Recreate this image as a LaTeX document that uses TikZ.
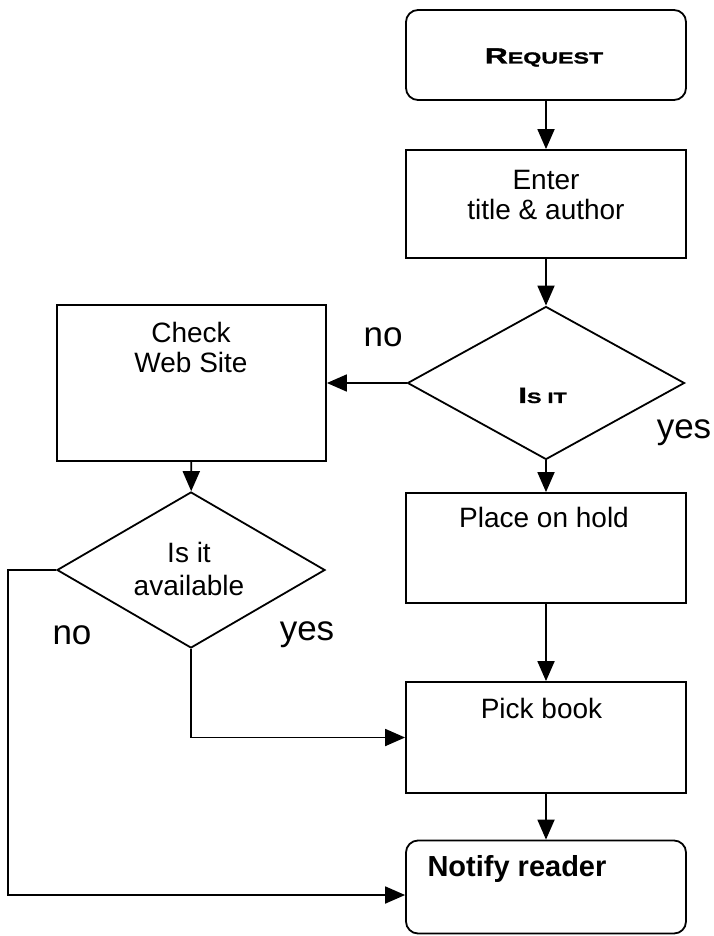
\documentclass[tikz,border=0pt]{standalone}
\usepackage{fontspec}
\setmainfont{Liberation Sans}
\newfontfamily\capsfont[FakeStretch=1.45,BoldFeatures={FakeBold=1.5}]{Liberation Sans}
\usetikzlibrary{shapes.geometric,arrows.meta}
\tikzset{
  stepbox/.style={draw=black, line width=1.8pt, inner sep=0pt, minimum width=280pt},
  endbox/.style={stepbox, rounded corners=12pt},
  query/.style={draw=black, line width=1.8pt, diamond, inner sep=0pt},
  txt/.style={text=black, align=center, font=\fontsize{28}{30}\selectfont},
  head/.style={text=black, font=\capsfont\bfseries\fontsize{22}{26}\selectfont},
  ans/.style={text=black, font=\fontsize{35}{40}\selectfont},
  flow/.style={draw=black, line width=1.8pt, -{Triangle[length=20pt,width=17pt]}},
}
\begin{document}
\begin{tikzpicture}[x=1pt,y=-1pt]
\useasboundingbox (0,0) rectangle (713,936);

% boxes and decisions:
\node[endbox, minimum height=90pt] (req) at (546,55) {};
\node[stepbox, minimum height=108pt] (enter) at (546,204) {};
\node[query, minimum width=277pt, minimum height=153pt] (isit) at (546,383) {};
\node[stepbox, minimum width=269pt, minimum height=156pt] (check) at (191.5,383) {};
\node[query, minimum width=268pt, minimum height=156pt] (avail) at (191,570) {};
\node[stepbox, minimum height=110pt] (place) at (546,548) {};
\node[stepbox, minimum height=111pt] (pick) at (546,737.5) {};
\node[endbox, minimum height=93pt] (notify) at (546,887) {};
\coordinate (lftrail) at (8,895);

% texts:
\node[head] (reqtxt) at (544,57.5) {R\fontsize{16}{20}\selectfont EQUEST};
\node[head] (isittxt) at (542.5,395.5) {I\fontsize{15}{18}\selectfont S IT};
\node[txt] (entertxt) at (546,195) {Enter\\title \& author};
\node[txt] (checktxt) at (191,347) {Check\\Web Site};
\node[txt, font=\fontsize{28}{33}\selectfont] (availtxt) at (189,568.5) {Is it\\available};
\node[txt] (placetxt) at (544,517) {Place on hold};
\node[txt] (picktxt) at (541.5,708) {Pick book};
\node[txt, font=\bfseries\fontsize{29}{32}\selectfont, anchor=west] (notifytxt) at (424,869) {Notify reader};
\node[ans] (nofirst) at (383,337) {no};
\node[ans] (yesfirst) at (684,433) {yes};
\node[ans] (nosecond) at (72,635) {no};
\node[ans] (yessecond) at (307,635) {yes};

% connectors:
\draw[flow] (req) -- (enter);
\draw[flow] (enter) -- (isit);
\draw[flow] (isit.west) -- (check.east);
\draw[flow] (isit) -- (place);
\draw[flow] (check) -- (avail);
\draw[flow] (place) -- (pick);
\draw[flow] (pick) -- (notify);
\draw[flow] (avail.south) |- (pick.west);
\draw[flow] (avail.west) -| (lftrail) -- (notify.west |- lftrail);

\end{tikzpicture}
\end{document}
